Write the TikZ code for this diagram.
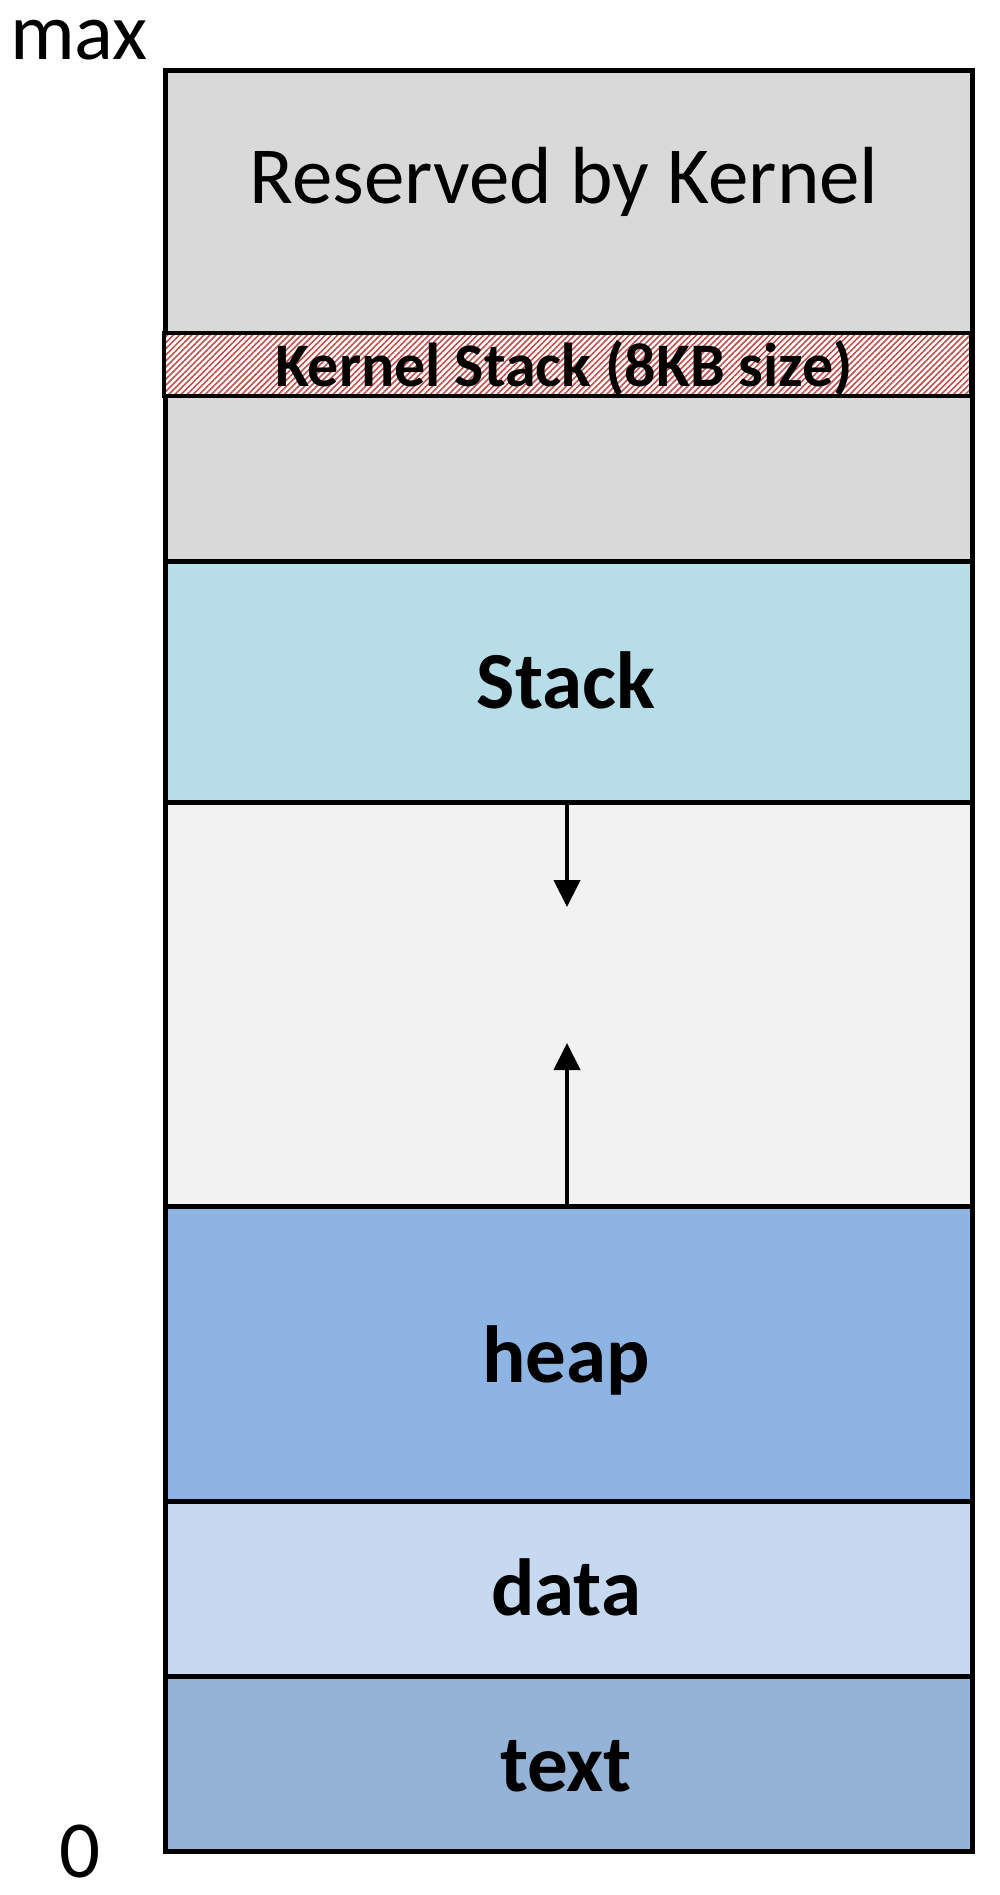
\documentclass[tikz,border=0pt]{standalone}
\usepackage{fontspec}
\setmainfont{Carlito}
\usetikzlibrary{arrows.meta,patterns.meta}

\definecolor{kernelgray}{HTML}{D9D9D9}
\definecolor{stackblue}{HTML}{B7DDE8}
\definecolor{freegray}{HTML}{F2F2F2}
\definecolor{heapblue}{HTML}{8EB4E3}
\definecolor{datablue}{HTML}{C6D9F1}
\definecolor{textblue}{HTML}{95B3D7}
\definecolor{hatchred}{HTML}{C0504D}

\tikzset{
  seg/.style={draw=black, line width=4.5pt, rectangle, inner sep=0pt,
    minimum width=807pt, anchor=north west},
  biglabel/.style={font=\fontsize{81}{97}\selectfont, anchor=base, inner sep=0pt},
  boldlabel/.style={biglabel, font=\fontsize{81}{97}\selectfont\bfseries},
  growarrow/.style={line width=4.2pt, -{Triangle[length=27pt,width=26pt]}}
}

\begin{document}
\begin{tikzpicture}[x=1pt,y=-1pt]
  \useasboundingbox (0,0) rectangle (1000,1895);

  % memory segments, top (max) to bottom (0)
  \node[seg, fill=kernelgray, minimum height=491pt] (reserved) at (163,68) {};
  \node[seg, preaction={fill=white},
        pattern={Lines[angle=45,distance=4.3pt,line width=1.6pt]},
        pattern color=hatchred, minimum height=63pt] (kstack) at (163,332) {};
  \node[seg, fill=stackblue, minimum height=241pt] (stack) at (163,559) {};
  \node[seg, fill=freegray, minimum height=404pt] (free) at (163,800) {};
  \node[seg, fill=heapblue, minimum height=295pt] (heap) at (163,1204) {};
  \node[seg, fill=datablue, minimum height=175pt] (data) at (163,1499) {};
  \node[seg, fill=textblue, minimum height=175pt] (text) at (163,1674) {};

  % segment labels
  \node[biglabel] (lreserved) at (564,203) {Reserved by Kernel};
  \node[anchor=base, inner sep=0pt, font=\fontsize{62}{74}\selectfont\bfseries]
        (lkstack) at (564,386) {Kernel Stack (8KB size)};
  \node[boldlabel] (lstack) at (566,708) {Stack};
  \node[boldlabel] (lheap) at (566,1382) {heap};
  \node[boldlabel] (ldata) at (566,1615) {data};
  \node[boldlabel] (ltext) at (566,1791) {text};

  % address range markers
  \node[biglabel, anchor=base west] (lmax) at (10,59) {max};
  \node[biglabel] (lzero) at (80,1877) {0};

  % growth directions of stack and heap
  \coordinate (stackend) at (567,907);
  \coordinate (heapend) at (567,1043);
  \draw[growarrow] (stack.south -| stackend) -- (stackend);
  \draw[growarrow] (heap.north -| heapend) -- (heapend);
\end{tikzpicture}
\end{document}
